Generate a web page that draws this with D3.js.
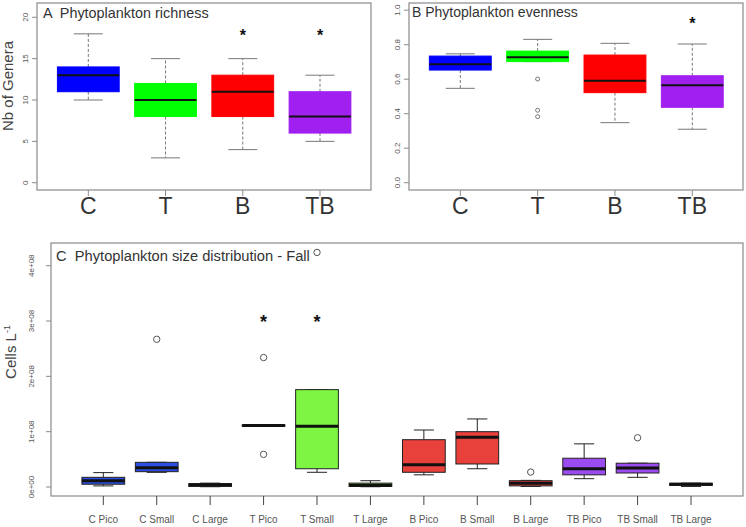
<!DOCTYPE html>
<html><head><meta charset="utf-8">
<script src="https://cdn.jsdelivr.net/npm/d3@7"></script>
<style>body{margin:0;background:#fff}svg{display:block;font-family:"Liberation Sans",Arial,sans-serif}text{white-space:pre}</style>
</head><body><svg id="c" width="746" height="527"></svg>
<script>
// ---- Panel A: richness ----
const groups = ["C","T","B","TB"];
const colorsAB = ["#0000ff","#00ff00","#ff0000","#a020f0"];
const richLo  = [10, 3, 4, 5];
const richQ1  = [11, 8, 8, 6];
const richMed = [13, 10, 11, 8];
const richQ3  = [14, 12, 13, 11];
const richHi  = [18, 15, 15, 13];
const richStars = [null, null, 18.2, 18.2];
const richTicks = [0,5,10,15,20];
// ---- Panel B: evenness ----
const evenLo  = [0.547, 0.702, 0.348, 0.31];
const evenQ1  = [0.653, 0.702, 0.522, 0.437];
const evenMed = [0.686, 0.727, 0.591, 0.565];
const evenQ3  = [0.734, 0.763, 0.740, 0.620];
const evenHi  = [0.747, 0.831, 0.808, 0.804];
const evenOut = [[], [0.601, 0.42, 0.383], [], []];
const evenStars = [null, null, null, 0.939];
const evenTicks = [0,0.2,0.4,0.6,0.8,1.0];
// ---- Panel C: size distribution (cells per L) ----
const sizeCats = ["C Pico","C Small","C Large","T Pico","T Small","T Large","B Pico","B Small","B Large","TB Pico","TB Small","TB Large"];
const colorsC = ["#2b4fe3","#2b4fe3","#2b4fe3","#7ef542","#7ef542","#7ef542","#e8403a","#e8403a","#e8403a","#9b4cf0","#9b4cf0","#9b4cf0"];
const sizeLo  = [0.02e8, 0.265e8, 0.005e8, 1.10e8, 0.266e8, 0.005e8, 0.22e8, 0.33e8, 0.01e8, 0.15e8, 0.175e8, 0.01e8];
const sizeQ1  = [0.05e8, 0.277e8, 0.01e8, 1.10e8, 0.33e8, 0.01e8, 0.266e8, 0.416e8, 0.02e8, 0.22e8, 0.253e8, 0.03e8];
const sizeMed = [0.114e8, 0.35e8, 0.04e8, 1.11e8, 1.10e8, 0.03e8, 0.40e8, 0.90e8, 0.067e8, 0.33e8, 0.345e8, 0.05e8];
const sizeQ3  = [0.175e8, 0.446e8, 0.06e8, 1.12e8, 1.76e8, 0.07e8, 0.855e8, 1.0e8, 0.114e8, 0.52e8, 0.43e8, 0.067e8];
const sizeHi  = [0.26e8, 0.446e8, 0.07e8, 1.12e8, 1.76e8, 0.114e8, 1.03e8, 1.23e8, 0.12e8, 0.78e8, 0.43e8, 0.07e8];
const sizeOut = [[], [2.67e8], [], [0.59e8, 2.34e8], [4.24e8], [], [], [], [0.27e8], [], [0.89e8], []];
const sizeStars = [null,null,null,3.06e8,3.06e8,null,null,null,null,null,null,null];
const sizeTicks = [0, 1e8, 2e8, 3e8, 4e8];
const sizeTickLabels = ["0e+00","1e+08","2e+08","3e+08","4e+08"];

const svg = d3.select("#c");
const GRAY = "#8a8a8a", TXT = "#555";

function panel(o){
  const g = svg.append("g");
  g.append("rect").attr("x",o.left).attr("y",o.top).attr("width",o.right-o.left).attr("height",o.bottom-o.top)
    .attr("fill","none").attr("stroke",GRAY).attr("stroke-width",1.2);
  o.yTicks.forEach((t,i)=>{
    const y = o.y(t);
    g.append("line").attr("x1",o.left-5).attr("x2",o.left).attr("y1",y).attr("y2",y).attr("stroke",GRAY);
    g.append("text").attr("transform",`translate(${o.ylabX},${y}) rotate(-90)`).attr("text-anchor","middle")
      .attr("dominant-baseline","central").attr("font-size",8).attr("fill",TXT).text(o.yTickLabels?o.yTickLabels[i]:String(t));
  });
  o.cats.forEach((c,i)=>{
    const x = o.x(i+1);
    g.append("line").attr("x1",x).attr("x2",x).attr("y1",o.bottom).attr("y2",o.bottom+o.tickLen).attr("stroke",o.xTickColor);
    g.append("text").attr("x",x).attr("y",o.xlabY).attr("text-anchor","middle").attr("font-size",o.xlabSize)
      .attr("fill",o.xlabColor).text(c);
  });
  const bw = o.x(1.4)-o.x(1);
  o.cats.forEach((c,i)=>{
    const x = o.x(i+1);
    const lo=o.y(o.lo[i]), q1=o.y(o.q1[i]), md=o.y(o.med[i]), q3=o.y(o.q3[i]), hi=o.y(o.hi[i]);
    const cw = bw*o.capFrac;
    g.append("line").attr("x1",x).attr("x2",x).attr("y1",q3).attr("y2",hi).attr("stroke",o.whiskColor).attr("stroke-dasharray",o.dash);
    g.append("line").attr("x1",x).attr("x2",x).attr("y1",q1).attr("y2",lo).attr("stroke",o.whiskColor).attr("stroke-dasharray",o.dash);
    g.append("line").attr("x1",x-cw).attr("x2",x+cw).attr("y1",hi).attr("y2",hi).attr("stroke",o.whiskColor);
    g.append("line").attr("x1",x-cw).attr("x2",x+cw).attr("y1",lo).attr("y2",lo).attr("stroke",o.whiskColor);
    g.append("rect").attr("x",x-bw).attr("y",q3).attr("width",2*bw).attr("height",Math.max(q1-q3,1))
      .attr("fill",o.colors[i]).attr("stroke",o.boxStroke||o.colors[i]).attr("stroke-width",1);
    g.append("line").attr("x1",x-bw).attr("x2",x+bw).attr("y1",md).attr("y2",md).attr("stroke","#111").attr("stroke-width",o.medW);
    (o.out?o.out[i]:[]).forEach(v=>{
      g.append("circle").attr("cx",x).attr("cy",o.y(v)).attr("r",o.outR).attr("fill","none").attr("stroke","#555").attr("stroke-width",o.outSW);
    });
    if(o.stars[i]!=null){
      g.append("text").attr("x",x).attr("y",o.y(o.stars[i])).attr("text-anchor","middle").attr("dominant-baseline","central")
        .attr("dy",o.starDy).attr("font-size",o.starSize).attr("font-weight","bold").attr("fill","#111").text("*");
    }
  });
  g.append("text").attr("x",o.titleX).attr("y",o.titleY).attr("font-size",o.titleSize).attr("fill","#333").text(o.title);
  return g;
}

// Panel A
const xA = d3.scaleLinear().domain([1,4]).range([88.3,320]);
const yA = d3.scaleLinear().domain([0,20]).range([182.7,17.3]);
panel({left:37,right:371,top:3,bottom:190,x:xA,y:yA,yTicks:richTicks,ylabX:25,cats:groups,tickLen:6,xTickColor:GRAY,
  xlabY:214,xlabSize:23,xlabColor:"#333",lo:richLo,q1:richQ1,med:richMed,q3:richQ3,hi:richHi,colors:colorsAB,
  whiskColor:"#777",dash:"3,2",capFrac:0.47,medW:2,stars:richStars,starDy:3,starSize:16,outR:2,outSW:0.8,
  title:"A  Phytoplankton richness",titleX:43,titleY:18,titleSize:14.4});
svg.append("text").attr("transform","translate(13,86) rotate(-90)").attr("text-anchor","middle").attr("font-size",15).attr("fill","#444").text("Nb of Genera");

// Panel B
const xB = d3.scaleLinear().domain([1,4]).range([460.3,692.3]);
const yB = d3.scaleLinear().domain([0,1]).range([182.7,10.2]);
panel({left:409,right:743,top:3,bottom:190,x:xB,y:yB,yTicks:evenTicks,yTickLabels:evenTicks.map(d=>d.toFixed(1)),ylabX:397,cats:groups,tickLen:6,xTickColor:GRAY,
  xlabY:214,xlabSize:23,xlabColor:"#333",lo:evenLo,q1:evenQ1,med:evenMed,q3:evenQ3,hi:evenHi,out:evenOut,colors:colorsAB,
  whiskColor:"#777",dash:"3,2",capFrac:0.47,medW:2,stars:evenStars,starDy:3,starSize:16,outR:2,outSW:0.8,
  title:"B Phytoplankton evenness",titleX:412,titleY:17,titleSize:14});

// Panel C
const xC = d3.scaleLinear().domain([1,12]).range([103.3,691]);
const yC = d3.scaleLinear().domain([0,4e8]).range([487,265.7]);
panel({left:51,right:743,top:243,bottom:496,x:xC,y:yC,yTicks:sizeTicks,yTickLabels:sizeTickLabels,ylabX:31.5,cats:sizeCats,tickLen:9,xTickColor:"#444",
  xlabY:523,xlabSize:10,xlabColor:"#555",lo:sizeLo,q1:sizeQ1,med:sizeMed,q3:sizeQ3,hi:sizeHi,out:sizeOut,colors:colorsC,boxStroke:"#222",
  whiskColor:"#222",dash:null,capFrac:0.47,medW:3,stars:sizeStars,starDy:4,starSize:18,outR:3.2,outSW:1,
  title:"C  Phytoplankton size distribution - Fall",titleX:56,titleY:261,titleSize:14.7});
const yt = svg.append("text").attr("transform","translate(16,352) rotate(-90)").attr("text-anchor","middle").attr("font-size",15).attr("fill","#444");
yt.append("tspan").text("Cells L");
yt.append("tspan").attr("dy",-6).attr("font-size",9).text("-1");
</script></body></html>
